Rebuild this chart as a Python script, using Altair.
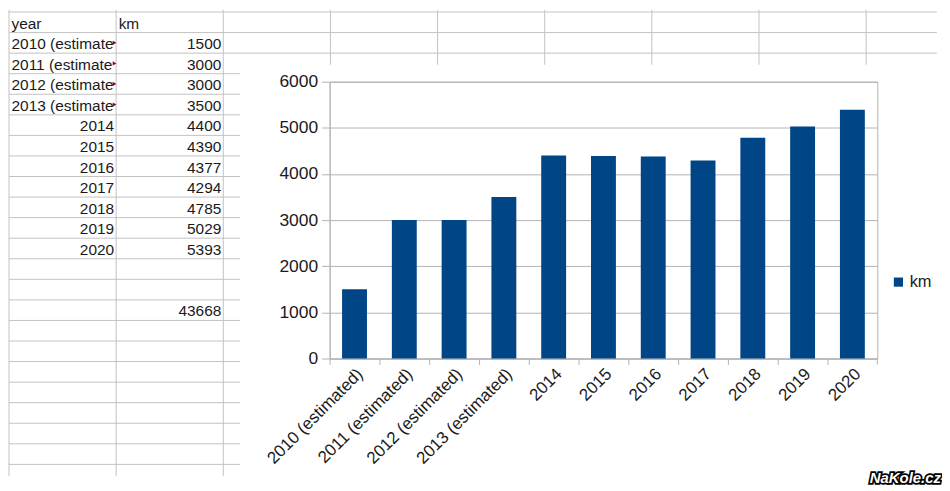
import altair as alt
import pandas as pd

# ---------------- data ----------------
categories = ["2010 (estimated)", "2011 (estimated)", "2012 (estimated)", "2013 (estimated)",
              "2014", "2015", "2016", "2017", "2018", "2019", "2020"]
km = [1500, 3000, 3000, 3500, 4400, 4390, 4377, 4294, 4785, 5029, 5393]
header = ["year", "km"]
series_name = "km"
total_row = 14
y_ticks = [0, 1000, 2000, 3000, 4000, 5000, 6000]
watermark = "NaKole.cz"

# ---------------- style / layout ----------------
FONT = "Liberation Sans"
TXT = "#1a1a1a"
SHEET_GRID = "#c2c2c2"
CHART_GRID = "#b3b3b3"
BAR = "#004586"

COL_W = 107.6          # spreadsheet column width (px)
ROW_H = 20.65          # spreadsheet row height (px)
TABLE_W = 232
TABLE_H = 468
x_dom = [0, TABLE_W / COL_W]
y0 = -2 / ROW_H
y_dom = [y0, y0 + TABLE_H / ROW_H]
STRIP_ROWS = 2.566     # where the chart object starts (in rows)
RIGHT_COL = 8.66       # right edge of visible sheet (in columns)

xs = alt.Scale(domain=x_dom, nice=False, zero=False)
ys = alt.Scale(domain=y_dom, nice=False, zero=False, reverse=True)

# spreadsheet grid lines
hl = pd.DataFrame({"k": list(range(0, 23))})
hl["x0"] = 0.0
hl["x1"] = [RIGHT_COL if k <= 2 else x_dom[1] for k in hl["k"]]
vl = pd.DataFrame({"c": list(range(0, 9))})
vl["ya"] = y_dom[0]
vl["yb"] = [y_dom[1] if c <= 2 else STRIP_ROWS for c in vl["c"]]

hrules = alt.Chart(hl).mark_rule(color=SHEET_GRID, strokeWidth=1).encode(
    x=alt.X("x0:Q", scale=xs, axis=None), x2="x1:Q",
    y=alt.Y("k:Q", scale=ys, axis=None))
vrules = alt.Chart(vl).mark_rule(color=SHEET_GRID, strokeWidth=1).encode(
    x=alt.X("c:Q", scale=xs, axis=None),
    y=alt.Y("ya:Q", scale=ys, axis=None), y2="yb:Q")

# spreadsheet cells
cells = [{"x": 0, "row": 0, "text": header[0], "side": "left"},
         {"x": 1, "row": 0, "text": header[1], "side": "left"}]
for i, (c, v) in enumerate(zip(categories, km)):
    if c.isdigit():
        cells.append({"x": 1, "row": i + 1, "text": c, "side": "right"})
    else:
        cells.append({"x": 0, "row": i + 1, "text": c, "side": "left"})
    cells.append({"x": 2, "row": i + 1, "text": str(v), "side": "right"})
cells.append({"x": 2, "row": total_row, "text": str(sum(km)), "side": "right"})
cells = pd.DataFrame(cells)
cells["yb"] = cells["row"] + 1
cells["ym"] = cells["row"] + 0.5

left_txt = alt.Chart(cells).transform_filter(alt.datum.side == "left").mark_text(
    align="left", baseline="alphabetic", dx=2.5, dy=-4, limit=104, ellipsis="\u200b",
    font=FONT, fontSize=15.5, color=TXT).encode(
    x=alt.X("x:Q", scale=xs, axis=None), y=alt.Y("yb:Q", scale=ys, axis=None), text="text:N")
right_txt = alt.Chart(cells).transform_filter(alt.datum.side == "right").mark_text(
    align="right", baseline="alphabetic", dx=-2, dy=-4,
    font=FONT, fontSize=15.5, color=TXT).encode(
    x=alt.X("x:Q", scale=xs, axis=None), y=alt.Y("yb:Q", scale=ys, axis=None), text="text:N")

trunc = cells[(cells["side"] == "left") & (cells["row"] > 0) & (cells["x"] == 0)].copy()
trunc["xt"] = 0.985
marks = alt.Chart(trunc).mark_point(shape="triangle-right", filled=True, size=18,
                                    color="#a00000", opacity=1).encode(
    x=alt.X("xt:Q", scale=xs, axis=None), y=alt.Y("ym:Q", scale=ys, axis=None))

table = alt.layer(hrules, vrules, left_txt, right_txt, marks).properties(
    width=TABLE_W, height=TABLE_H)

# ---------------- bar chart ----------------
df = pd.DataFrame({"year": categories, "km": km, "series": series_name})

bars = alt.Chart(df).mark_bar(color=BAR).encode(
    x=alt.X("year:N", sort=categories,
            scale=alt.Scale(paddingInner=0.5, paddingOuter=0.25),
            axis=alt.Axis(title=None, labelAngle=-45, labelAlign="right", labelBaseline="top",
                          bandPosition=-0.5, tickSize=6, labelPadding=1,
                          domainColor=CHART_GRID, tickColor=CHART_GRID,
                          labelFont=FONT, labelFontSize=17, labelColor=TXT, grid=False)),
    y=alt.Y("km:Q", scale=alt.Scale(domain=[0, 6000], nice=False),
            axis=alt.Axis(title=None, values=y_ticks, format="d", tickSize=8, labelPadding=4,
                          grid=True, gridColor=CHART_GRID, domainColor=CHART_GRID,
                          tickColor=CHART_GRID, labelFont=FONT, labelFontSize=17.5,
                          labelColor=TXT)),
    color=alt.Color("series:N", scale=alt.Scale(range=[BAR]),
                    legend=alt.Legend(title=None, orient="none", legendX=885, legendY=265,
                                      symbolType="square", symbolSize=85, symbolStrokeWidth=0,
                                      labelFont=FONT, labelFontSize=16.5, labelColor=TXT,
                                      labelOffset=3, padding=0)),
)

wm_df = pd.DataFrame({"t": [watermark]})
end_tick = alt.Chart(wm_df).mark_rule(color=CHART_GRID).encode(
    x=alt.value(550), y=alt.value(278), y2=alt.value(284))
wm1 = alt.Chart(wm_df).mark_text(align="right", baseline="middle", font=FONT, fontSize=15,
                                 fontStyle="italic", fontWeight="bold", fill="white",
                                 stroke="black", strokeWidth=3.5).encode(
    text="t:N", x=alt.value(614), y=alt.value(398))
wm2 = alt.Chart(wm_df).mark_text(align="right", baseline="middle", font=FONT, fontSize=15,
                                 fontStyle="italic", fontWeight="bold", fill="white").encode(
    text="t:N", x=alt.value(614), y=alt.value(398))

bar_panel = alt.layer(bars, end_tick, wm1, wm2).properties(
    width=550, height=278, view=alt.ViewBackground(stroke=CHART_GRID))

spacer = alt.Chart(wm_df).mark_rule(opacity=0).encode(
    x=alt.value(0), y=alt.value(0), y2=alt.value(1)).properties(width=550, height=55)

right = alt.vconcat(spacer, bar_panel, spacing=17, bounds="flush")

chart = alt.hconcat(table, right, spacing=90, bounds="flush").properties(
    padding=0).configure_view(stroke=None).configure_legend(
    labelFont=FONT, labelFontSize=16.5, labelColor=TXT, symbolType="square",
    symbolSize=85, symbolStrokeWidth=0, labelOffset=3, padding=0)

chart.save("out.html", embed_options={"renderer": "svg", "actions": False})
